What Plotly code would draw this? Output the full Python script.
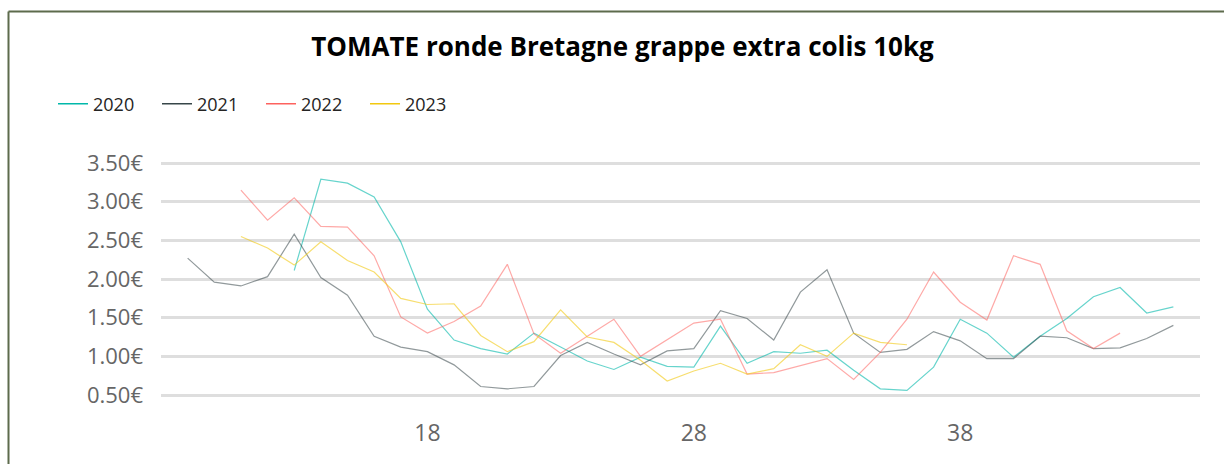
import plotly.graph_objects as go

title = "TOMATE ronde Bretagne grappe extra colis 10kg"
years = ["2020", "2021", "2022", "2023"]

weeks_2020 = list(range(13, 47))
price_2020 = [2.11, 3.29, 3.24, 3.06, 2.48, 1.61, 1.21, 1.10, 1.03, 1.30, 1.12, 0.94, 0.83, 0.99,
              0.87, 0.86, 1.39, 0.91, 1.06, 1.04, 1.08, 0.82, 0.58, 0.56, 0.86, 1.48, 1.30, 0.99,
              1.26, 1.49, 1.77, 1.89, 1.56, 1.64]

weeks_2021 = list(range(9, 47))
price_2021 = [2.27, 1.96, 1.91, 2.03, 2.58, 2.02, 1.79, 1.26, 1.12, 1.06, 0.89, 0.61, 0.58, 0.61,
              1.01, 1.18, 1.03, 0.89, 1.07, 1.10, 1.59, 1.49, 1.21, 1.83, 2.12, 1.30, 1.05, 1.09,
              1.32, 1.20, 0.97, 0.97, 1.26, 1.24, 1.10, 1.11, 1.23, 1.40]

weeks_2022 = list(range(11, 45))
price_2022 = [3.15, 2.76, 3.05, 2.68, 2.67, 2.30, 1.51, 1.30, 1.45, 1.65, 2.19, 1.29, 1.04, 1.26,
              1.48, 1.00, 1.21, 1.43, 1.48, 0.77, 0.79, 0.88, 0.97, 0.70, 1.05, 1.48, 2.09, 1.70,
              1.47, 2.30, 2.19, 1.33, 1.10, 1.30]

weeks_2023 = list(range(11, 37))
price_2023 = [2.55, 2.40, 2.18, 2.48, 2.24, 2.09, 1.75, 1.67, 1.68, 1.27, 1.06, 1.19, 1.60, 1.25,
              1.18, 0.95, 0.68, 0.81, 0.91, 0.77, 0.84, 1.15, 1.00, 1.30, 1.18, 1.15]

x_ticks = [18, 28, 38]
y_ticks = [0.5, 1.0, 1.5, 2.0, 2.5, 3.0, 3.5]
y_tick_labels = ["0.50€", "1.00€", "1.50€", "2.00€", "2.50€", "3.00€", "3.50€"]

full_colors = ["#01B8AA", "#374649", "#FD625E", "#F2C80F"]
line_colors = ["rgba(1,184,170,0.6)", "rgba(55,70,73,0.55)", "rgba(253,98,94,0.55)", "rgba(242,200,15,0.6)"]

series = [(weeks_2020, price_2020), (weeks_2021, price_2021), (weeks_2022, price_2022), (weeks_2023, price_2023)]

fig = go.Figure()
for (wk, pr), name, lc in zip(series, years, line_colors):
    fig.add_trace(go.Scatter(x=wk, y=pr, mode="lines", name=name, showlegend=False,
                             line=dict(color=lc, width=1.2), hoverinfo="x+y"))
for name, fc in zip(years, full_colors):
    fig.add_trace(go.Scatter(x=[None], y=[None], mode="lines", name=name,
                             line=dict(color=fc, width=1.5)))

L, R, T, B = 161, 24, 161, 67
W, H = 1224, 464
pw, ph = W - L - R, H - T - B
bx = (8.5 - L) / pw
by = (H - B - 11.5) / ph

fig.update_layout(
    width=W, height=H,
    margin=dict(l=L, r=R, t=T, b=B),
    paper_bgcolor="white", plot_bgcolor="white",
    font=dict(family="Open Sans", color="#252423"),
    title=dict(text="<b>" + title + "</b>", x=622.5 / W, xref="container", xanchor="center",
               y=1 - 47 / H, yref="container", yanchor="middle",
               font=dict(size=26, color="#000000", family="Open Sans")),
    legend=dict(orientation="h", x=(53 - L) / pw, xanchor="left", y=(H - B - 104) / ph,
                yanchor="middle", font=dict(size=18, color="#252423"),
                entrywidth=59, entrywidthmode="pixels", bgcolor="rgba(0,0,0,0)"),
    xaxis=dict(range=[8, 47], tickvals=x_ticks, showgrid=False, zeroline=False, showline=False,
               ticks="", ticklabelstandoff=20, tickfont=dict(size=23, color="#666666")),
    yaxis=dict(range=[0.5 - 2 / 77.33, 3.5 + 2 / 77.33], tickvals=y_ticks, ticktext=y_tick_labels,
               showgrid=True, gridcolor="#dedede", gridwidth=2.5, zeroline=False, showline=False,
               ticks="", ticklabelstandoff=17, tickfont=dict(size=22, color="#666666")),
    shapes=[
        dict(type="line", xref="paper", yref="paper", x0=bx, x1=(W - L + 5) / pw, y0=by, y1=by,
             line=dict(color="#5d6b4c", width=2)),
        dict(type="line", xref="paper", yref="paper", x0=bx, x1=bx, y0=by, y1=-0.4,
             line=dict(color="#5d6b4c", width=2)),
    ],
)

fig.write_html("out.html", config={"displayModeBar": False},
               post_script="document.body.style.margin='0';document.body.style.overflow='hidden';")
